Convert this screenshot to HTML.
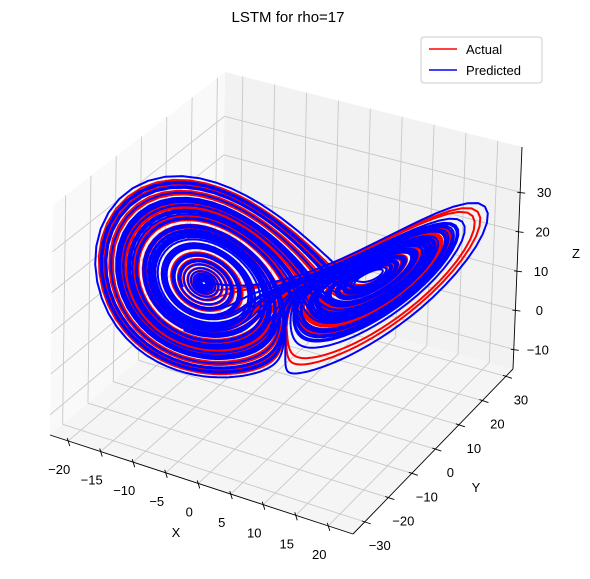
<!DOCTYPE html>
<html><head><meta charset="utf-8"><style>
body{margin:0;background:#fff}
svg{display:block;font-family:"Liberation Sans","DejaVu Sans",sans-serif}
</style></head><body>
<svg id="chart" width="590" height="579" viewBox="0 0 590 579" xmlns="http://www.w3.org/2000/svg">
<text x="288" y="22" font-size="15" text-anchor="middle">LSTM for rho=17</text>
<g id="panes"></g>
<g id="series"></g>
<g id="axes"></g>
<g>
<rect x="421" y="37" width="121" height="46" rx="3" fill="#fff" fill-opacity="0.8" stroke="#cccccc"/>
<line x1="429" y1="49" x2="457" y2="49" stroke="red" stroke-width="1.5"/>
<text x="466" y="54" font-size="13">Actual</text>
<line x1="429" y1="70" x2="457" y2="70" stroke="blue" stroke-width="1.5"/>
<text x="466" y="75" font-size="13">Predicted</text>
</g>
<text x="176" y="537" font-size="13" text-anchor="middle">X</text>
<text x="476" y="492" font-size="13" text-anchor="middle">Y</text>
<text x="576" y="258" font-size="13" text-anchor="middle">Z</text>
</svg>
<script>
const xTicks=[-20,-15,-10,-5,0,5,10,15,20];
const yTicks=[-30,-20,-10,0,10,20,30];
const zTicks=[-10,0,10,20,30];
const xLim=[-22.8,23.8];
const yLim=[-35,33];
const zLim=[-15,41.5];
const lorenzParams=[10,28,8/3];
const actualStart=[1,1,1];
const predictedStart=[1.001,1,1];
const zOffset=[-11];
const xyScale=[1.1];
const NS='http://www.w3.org/2000/svg';
const cL=[50,435],cF=[353,534],cR=[513,369],cB=[222,290];
const hL=230,hF=226,hR=222,hB=218;
function P(x,y,z){
 const u=(x-xLim[0])/(xLim[1]-xLim[0]),v=(y-yLim[0])/(yLim[1]-yLim[0]),w=(z-zLim[0])/(zLim[1]-zLim[0]);
 const bl=(a,b,c,d)=>a*(1-u)*(1-v)+b*u*(1-v)+c*u*v+d*(1-u)*v;
 const px=bl(cL[0],cF[0],cR[0],cB[0]),py=bl(cL[1],cF[1],cR[1],cB[1]),h=bl(hL,hF,hR,hB);
 return [px+w*(3+u*6), py-w*h];
}
function mk(tag,attrs,parent){const e=document.createElementNS(NS,tag);for(const k in attrs)e.setAttribute(k,attrs[k]);parent.appendChild(e);return e;}
const panes=document.getElementById('panes'),axes=document.getElementById('axes'),series=document.getElementById('series');
function poly(pts,fill,name){const e=mk('polygon',{points:pts.map(p=>p.join(',')).join(' '),fill:fill},panes);

}
const [x0,x1]=xLim,[y0,y1]=yLim,[z0,z1]=zLim;
poly([P(x0,y0,z0),P(x0,y1,z0),P(x0,y1,z1),P(x0,y0,z1)],'#f9f9f9','left-pane');
poly([P(x0,y1,z0),P(x1,y1,z0),P(x1,y1,z1),P(x0,y1,z1)],'#f2f2f2','back-pane');
poly([P(x0,y0,z0),P(x1,y0,z0),P(x1,y1,z0),P(x0,y1,z0)],'#f5f5f5','floor-pane');
function gl(a,b,name){const e=mk('line',{x1:a[0],y1:a[1],x2:b[0],y2:b[1],stroke:'#c8c8c8','stroke-width':0.9},panes);

}
xTicks.forEach(t=>{gl(P(t,y1,z0),P(t,y1,z1),'grid-x');gl(P(t,y0,z0),P(t,y1,z0),'grid-x');});
yTicks.forEach(t=>{gl(P(x0,t,z0),P(x0,t,z1),'grid-y');gl(P(x0,t,z0),P(x1,t,z0),'grid-y');});
zTicks.forEach(t=>{gl(P(x0,y0,t),P(x0,y1,t),'grid-z');gl(P(x0,y1,t),P(x1,y1,t),'grid-z');});
function al(a,b,name){const e=mk('line',{x1:a[0],y1:a[1],x2:b[0],y2:b[1],stroke:'#000','stroke-width':0.9},axes);

}
al(P(x0,y0,z0),P(x1,y0,z0),'x-axis-line');
al(P(x1,y0,z0),P(x1,y1,z0),'y-axis-line');
al(P(x1,y1,z0),P(x1,y1,z1),'z-axis-line');
function lab(p,s,name){const e=mk('text',{x:p[0],y:p[1],'font-size':13,'text-anchor':'middle'},axes);e.textContent=s;

}
const fmt=v=>(v<0?'\u2212'+(-v):''+v);
xTicks.forEach(t=>{const p=P(t,y0,z0);al([p[0]-1,p[1]-3],[p[0]+1.5,p[1]+5],'x-tick');lab([p[0]-9,p[1]+33],fmt(t),'x-tick-label');});
yTicks.forEach(t=>{const p=P(x1,t,z0);al([p[0]-3,p[1]-1],[p[0]+6,p[1]+2],'y-tick');lab([p[0]+15,p[1]+28],fmt(t),'y-tick-label');});
zTicks.forEach(t=>{const p=P(x1,y1,t);al([p[0]-3,p[1]],[p[0]+5,p[1]+1],'z-tick');lab([p[0]+24,p[1]+5],fmt(t),'z-tick-label');});
function traj(s){const [sg,r,b]=lorenzParams;let [x,y,z]=s;const out=[];const dt=0.005;
for(let i=0;i<16000;i++){const dx=sg*(y-x),dy=x*(r-z)-y,dz=x*y-b*z;x+=dx*dt;y+=dy*dt;z+=dz*dt;if(i>600&&i%2==0)out.push(P(x*xyScale[0],y*xyScale[0],z+zOffset[0]));}
return out;}
function drawSeries(s,color,name){const pts=traj(s);const e=mk('polyline',{points:pts.map(p=>p[0].toFixed(1)+','+p[1].toFixed(1)).join(' '),fill:'none',stroke:color,'stroke-width':2,'stroke-linejoin':'round'},series);

}
drawSeries(actualStart,'red','actual-series');
drawSeries(predictedStart,'blue','predicted-series');
</script>
</body></html>
